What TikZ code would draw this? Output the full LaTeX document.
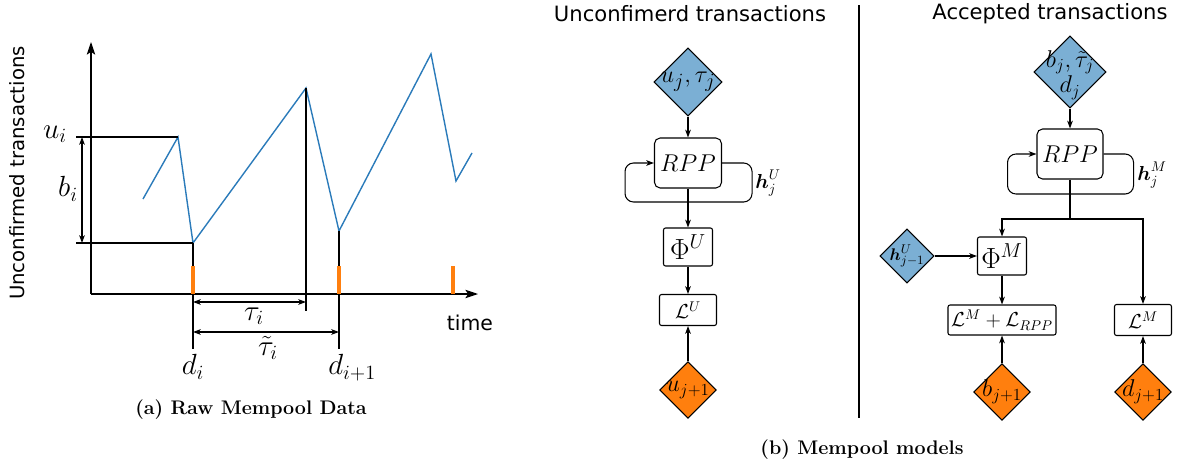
\documentclass[tikz,border=0pt]{standalone}
\usepackage{amsmath}
\usepackage{amssymb}
\usepackage{fontspec}
\setsansfont{DejaVu Sans}
\usepackage{xcolor}
\usetikzlibrary{shapes.geometric}
\usetikzlibrary{arrows.meta}
\usetikzlibrary{positioning}

\definecolor{diablue}{HTML}{7BAFD4}
\definecolor{diaorange}{HTML}{FF7F0E}
\definecolor{curveblue}{HTML}{2B7BBA}

\tikzset{
	inputdia/.style={diamond, draw, fill=diablue, inner sep=0pt, aspect=1},
	targetdia/.style={diamond, draw, fill=diaorange, inner sep=0pt, aspect=1},
	block/.style={draw, rounded corners=1.5pt, fill=white, inner sep=0pt},
	mathlbl/.style={font=\fontsize{20}{22}\selectfont, inner sep=0.5pt},
	axisarrow/.style={-{Stealth[length=9pt, width=6pt, inset=2pt]}},
}

\begin{document}
\begin{tikzpicture}[x=0.025cm, y=-0.025cm, >={Stealth[length=5.5pt, width=4pt, inset=1.5pt]}, line width=0.75pt]
		\useasboundingbox (0,0) rectangle (1178,467);
		%\draw [help lines, step=50] (0,0) grid (1178,467);
		
		%RAW DATA
		%assi
		\coordinate (origin) at (91,294);
		\coordinate (ytop) at (91,42);
		\coordinate (xend) at (478,294);
		\draw[axisarrow] (origin) -- (ytop);
		\draw[axisarrow] (origin) -- (xend);
		\node[rotate=90, font=\sffamily\fontsize{14}{16}\selectfont] (ylab) at (17,173) {Unconfirmed transactions};
		\node[font=\sffamily\fontsize{14.5}{16}\selectfont] (xlab) at (470,323) {time};
		
		%curva
		\draw[curveblue, line width=1pt] (143,199) -- (178,137) coordinate (peak)
			-- (193,243) coordinate (low) -- (306,88) coordinate (top)
			-- (339,231) coordinate (lowb) -- (431,54) -- (456,181) -- (472,153);
		
		%misure
		\draw (76,137) -- (peak);
		\draw (76,243) -- (low);
		\draw[<->] (82,137) -- (82,243);
		\node[mathlbl] (ui) at (55,134) {$u_i$};
		\node[mathlbl] (bi) at (68,189) {$b_i$};
		\draw (low) -- (193,349) coordinate (dlow);
		\draw (top) -- (306,311);
		\draw (lowb) -- (339,349) coordinate (dlowb);
		\foreach \x in {193,339,453}
			\draw[diaorange, line width=2.5pt] (\x,266) -- (\x,294);
		\draw[<->] (193,302) -- (306,302);
		\draw[<->] (193,332) -- (339,332);
		\node[mathlbl] (tau) at (254,316) {$\tau_i$};
		\node[mathlbl] (tautil) at (268,348) {$\tilde{\tau}_i$};
		\node[mathlbl, below=3pt of dlow] (di) {$d_i$};
		\node[mathlbl, below right=3pt and -8.5pt of dlowb] (dii) {$d_{i+1}$};
		\node[font=\bfseries\fontsize{14}{16}\selectfont] (capa) at (251,410) {(a) Raw Mempool Data};
		
		%MODELS
		\draw (859,5) -- (859,418);
		\node[font=\sffamily\fontsize{15}{17}\selectfont] (titU) at (690,14) {Unconfimerd transactions};
		\node[font=\sffamily\fontsize{15}{17}\selectfont] (titM) at (1050,14) {Accepted transactions};
		\node[font=\bfseries\fontsize{14}{16}\selectfont] (capb) at (862,450) {(b) Mempool models};
		
		%unconfirmed
		\node[inputdia, minimum size=1.7cm, label={[font=\fontsize{19}{20}\selectfont, inner sep=0pt]center:$u_j,\tau_j$}] (inU) at (688,82) {};
		\node[block, rounded corners=4pt, minimum width=1.675cm, minimum height=1.25cm, font=\fontsize{18}{20}\selectfont] (rppU) at (688,163) {$RPP$};
		\node[block, minimum width=1.225cm, minimum height=0.95cm, font=\fontsize{21}{22}\selectfont] (phiU) at (688,247) {$\Phi^U$};
		\node[block, minimum width=1.425cm, minimum height=0.775cm, font=\fontsize{14}{16}\selectfont] (lossU) at (688,310) {$\mathcal{L}^U$};
		\node[targetdia, minimum size=1.42cm, label={[font=\fontsize{18}{20}\selectfont, inner sep=0pt]center:$u_{j+1}$}] (tgtU) at (688,390) {};
		
		\draw[->] (inU.south) -- (rppU.north);
		\draw[->, rounded corners=6pt] (rppU.east) -- ++(30,0) -- ++(0,39) -- ++(-127,0) -- ++(0,-39) -- (rppU.west);
		\node[font=\fontsize{14}{16}\selectfont] (hU) at (768,183) {$\boldsymbol{h}_j^U$};
		\draw[->] (rppU.south) -- (phiU.north);
		\draw[->] (phiU.south) -- (lossU.north);
		\draw[->] (tgtU.north) -- (lossU.south);
		
		%accepted
		\node[inputdia, minimum size=1.8cm, label={[font=\fontsize{16.5}{17}\selectfont, align=center, inner sep=0pt, yshift=-2pt]center:$b_j,\tilde{\tau}_j$\\[1pt]$d_j$}] (inM) at (1070,72) {};
		\node[block, rounded corners=4pt, minimum width=1.65cm, minimum height=1.25cm, font=\fontsize{18}{20}\selectfont] (rppM) at (1070,154) {$RPP$};
		\node[inputdia, minimum size=1.35cm, label={[font=\fontsize{13}{14}\selectfont, inner sep=0pt]center:$\boldsymbol{h}_{j-1}^U$}] (hprev) at (907,256) {};
		\node[block, minimum width=1.225cm, minimum height=0.95cm, font=\fontsize{21}{22}\selectfont] (phiM) at (1002,256) {$\Phi^M$};
		\node[block, minimum width=2.7cm, minimum height=0.75cm, font=\fontsize{14}{16}\selectfont] (lossMR) at (1002,320) {$\mathcal{L}^M+\mathcal{L}_{RPP}$};
		\node[block, minimum width=1.425cm, minimum height=0.775cm, font=\fontsize{14}{16}\selectfont] (lossM) at (1143,320) {$\mathcal{L}^M$};
		\node[targetdia, minimum size=1.42cm, label={[font=\fontsize{18}{20}\selectfont, inner sep=0pt]center:$b_{j+1}$}] (tgtb) at (1002,392) {};
		\node[targetdia, minimum size=1.42cm, label={[font=\fontsize{18}{20}\selectfont, inner sep=0pt]center:$d_{j+1}$}] (tgtd) at (1143,392) {};
		
		\draw[->] (inM.south) -- (rppM.north);
		\draw[->, rounded corners=6pt] (rppM.east) -- ++(30,0) -- ++(0,40) -- ++(-126,0) -- ++(0,-40) -- (rppM.west);
		\node[font=\fontsize{14}{16}\selectfont] (hM) at (1152,175) {$\boldsymbol{h}_j^M$};
		\coordinate (split) at (1070,219);
		\draw (rppM.south) -- (split);
		\draw[->] (split) -| (phiM.north);
		\draw[->] (split) -| (lossM.north);
		\draw[->] (hprev.east) -- (phiM.west);
		\draw[->] (phiM.south) -- (lossMR.north);
		\draw[->] (tgtb.north) -- (lossMR.south);
		\draw[->] (tgtd.north) -- (lossM.south);
		
	\end{tikzpicture}
\end{document}
